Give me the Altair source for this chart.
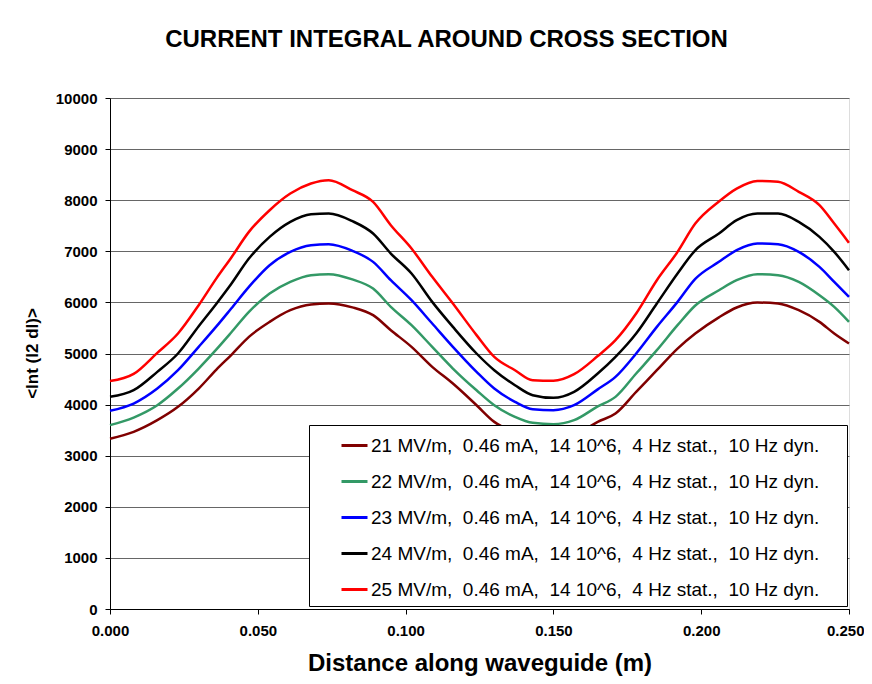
import altair as alt
import pandas as pd

x_m = [0.000, 0.008, 0.016, 0.023, 0.030, 0.036, 0.041, 0.047, 0.054, 0.061,
       0.068, 0.074, 0.082, 0.089, 0.095, 0.102, 0.109, 0.116, 0.124, 0.130,
       0.137, 0.143, 0.150, 0.157, 0.165, 0.171, 0.178, 0.185, 0.192, 0.198,
       0.206, 0.212, 0.219, 0.226, 0.233, 0.240, 0.245, 0.250]

s21 = [3332, 3467, 3695, 3956, 4314, 4686, 4970, 5326, 5619, 5847,
       5958, 5978, 5903, 5750, 5456, 5130, 4739, 4412, 3988, 3662,
       3460, 3360, 3335, 3400, 3662, 3825, 4249, 4673, 5097, 5391,
       5708, 5900, 5997, 5978, 5847, 5619, 5391, 5195]
s22 = [3598, 3747, 3988, 4314, 4706, 5080, 5410, 5815, 6174, 6402,
       6532, 6552, 6450, 6271, 5913, 5554, 5130, 4706, 4280, 3988,
       3760, 3643, 3617, 3695, 3965, 4151, 4608, 5065, 5554, 5940,
       6238, 6434, 6552, 6532, 6402, 6141, 5913, 5619]
s23 = [3879, 4021, 4314, 4673, 5130, 5530, 5880, 6304, 6728, 6989,
       7119, 7139, 7010, 6793, 6434, 6043, 5587, 5130, 4640, 4314,
       4053, 3910, 3890, 3988, 4298, 4543, 5000, 5521, 6010, 6460,
       6794, 7022, 7152, 7139, 6989, 6695, 6402, 6108]
s24 = [4153, 4282, 4641, 5000, 5534, 5975, 6360, 6858, 7282, 7576,
       7726, 7739, 7590, 7348, 6956, 6565, 6010, 5521, 5000, 4673,
       4380, 4184, 4132, 4249, 4608, 4934, 5391, 5978, 6565, 7020,
       7348, 7609, 7739, 7739, 7576, 7282, 6989, 6630]
s25 = [4460, 4600, 5012, 5391, 5945, 6470, 6875, 7380, 7804, 8130,
       8326, 8391, 8195, 7967, 7511, 7054, 6500, 5978, 5360, 4934,
       4673, 4478, 4465, 4595, 4950, 5260, 5782, 6434, 6989, 7543,
       7975, 8228, 8378, 8359, 8163, 7902, 7543, 7165]

sp = "\u00a0 "
pad_end = "\u00a0" * 4 + "\u200c"
labels = [f"{e} MV/m,{sp}0.46 mA,{sp}14 10^6,{sp}4 Hz stat.,{sp}10 Hz dyn.{pad_end}"
          for e in [21, 22, 23, 24, 25]]
colors = ["#800000", "#339966", "#0000FF", "#000000", "#FF0000"]
x_ticks = [0.0, 0.05, 0.10, 0.15, 0.20, 0.25]
y_ticks = list(range(0, 10001, 1000))

rows = []
for k, (lab, vals) in enumerate(zip(labels, [s21, s22, s23, s24, s25])):
    for xi, v in zip(x_m, vals):
        rows.append({"x": xi, "v": v, "series": lab, "k": k})
df = pd.DataFrame(rows)

FONT = "Liberation Sans"

chart = alt.Chart(df).mark_line(strokeWidth=2.5, interpolate="monotone").encode(
    x=alt.X("x:Q",
            scale=alt.Scale(domain=[0, 0.25], nice=False, zero=False),
            axis=alt.Axis(values=x_ticks, format=".3f", grid=False,
                          title="Distance along waveguide (m)",
                          titleFontSize=24, titleFont=FONT, titleFontWeight="bold",
                          titleColor="black", titleY=61, titleBaseline="alphabetic",
                          labelFontSize=15, labelFont=FONT, labelFontWeight="bold",
                          labelColor="black", labelPadding=9,
                          labelAlign={"condition": {"test": "datum.value >= 0.249", "value": "right"},
                                      "value": "center"},
                          labelOffset={"condition": {"test": "datum.value >= 0.249", "value": 15},
                                       "value": 0},
                          tickSize=5, tickColor="black", domainColor="black",
                          labelFlush=False)),
    y=alt.Y("v:Q",
            scale=alt.Scale(domain=[0, 10000], nice=False),
            axis=alt.Axis(values=y_ticks, format="d", grid=True,
                          gridColor="#666666", gridWidth=1,
                          title="<Int (I2 dl)>",
                          titleFontSize=17, titleFont=FONT, titleFontWeight="bold",
                          titleColor="black", titleX=-78, titleY=255,
                          titleAlign="center", titleBaseline="middle",
                          labelFontSize=15, labelFont=FONT, labelFontWeight="bold",
                          labelColor="black", labelPadding=8,
                          tickSize=5, tickColor="black", domainColor="black")),
    color=alt.Color("series:N",
                    scale=alt.Scale(domain=labels, range=colors),
                    legend=alt.Legend(title=None, orient="none",
                                      legendX=199, legendY=327,
                                      fillColor="white", strokeColor="black",
                                      padding=6, symbolOffset=25,
                                      symbolType="stroke", symbolStrokeWidth=3,
                                      symbolSize=676, labelFontSize=19,
                                      labelFont=FONT, labelColor="black",
                                      labelLimit=800, rowPadding=11,
                                      labelOffset=2)),
    order=alt.Order("k:Q"),
).properties(
    width=739, height=511,
    title=alt.TitleParams("CURRENT INTEGRAL AROUND CROSS SECTION",
                          fontSize=24, font=FONT, fontWeight="bold",
                          color="black", anchor="middle", dx=-33, offset=39),
    autosize=alt.AutoSizeParams(type="none"),
    padding={"left": 102, "top": 90, "right": 15, "bottom": 67},
).configure_view(stroke="#808080").configure(background="white")

chart.save("out.html", embed_options={"renderer": "svg", "actions": False})
